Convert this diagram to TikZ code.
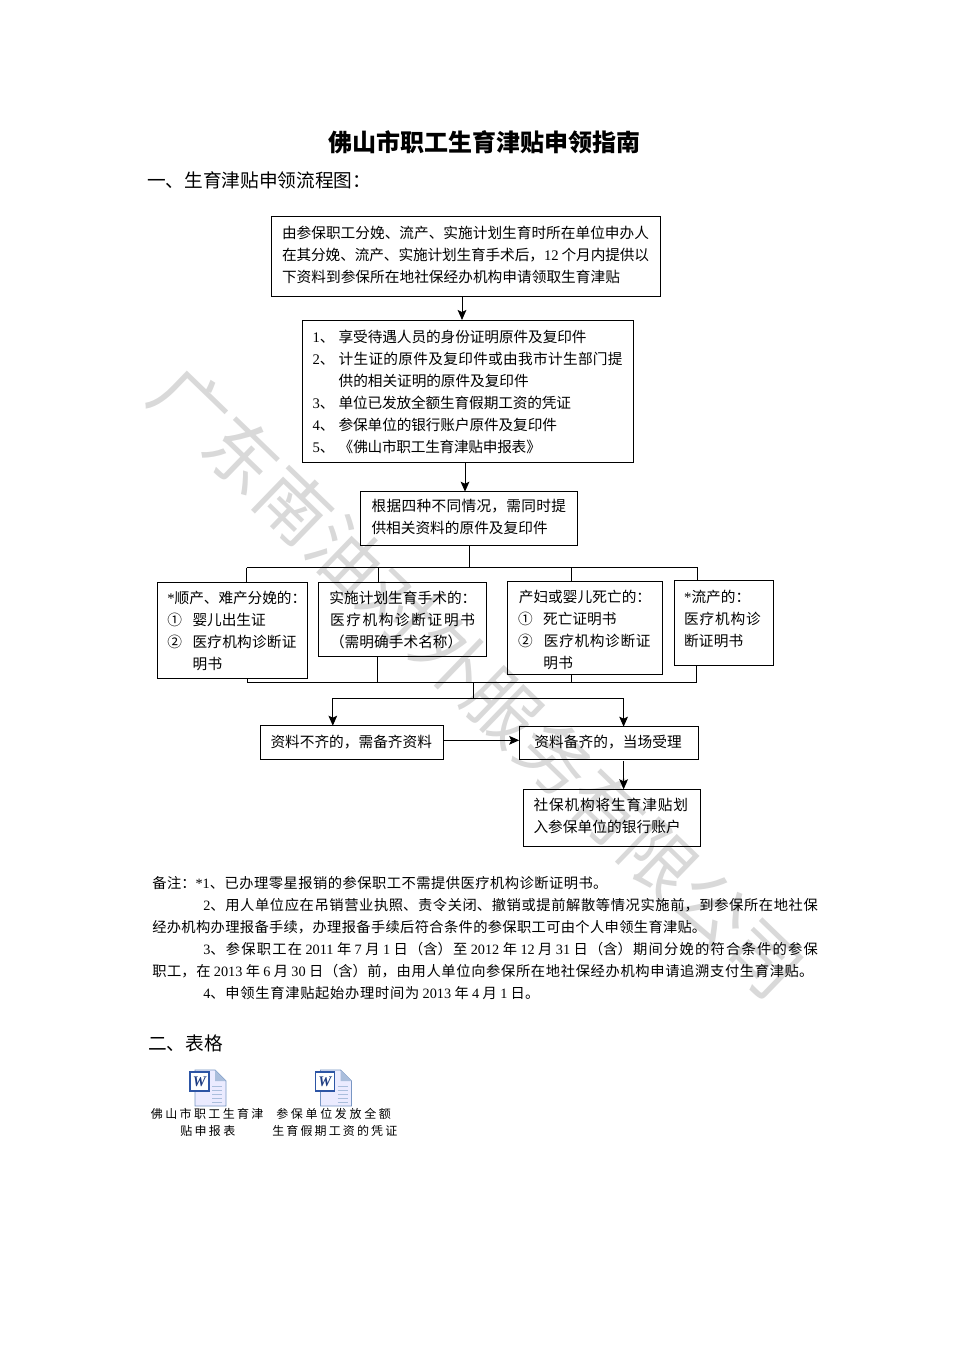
\documentclass[tikz,border=0pt]{standalone}
\usepackage{fontspec}
\usetikzlibrary{arrows.meta}
\setmainfont{Noto Sans CJK SC}
\newfontfamily\latfont{Liberation Serif}
\XeTeXlinebreaklocale "zh"
\XeTeXlinebreakskip=0pt plus 6pt minus .3pt
\pretolerance=10000 \tolerance=10000 \hbadness=10000 \hfuzz=5pt \vbadness=10000
\newlength\pxu \pxu=.75pt
\newlength\bw \newlength\bh
\newcommand\lat[1]{{\latfont #1}}
\newcommand\nm[2]{\makebox[#1\pxu][l]{#2}}
% one justified line: offset, width, text
\newcommand\jl[3]{{\hsize=\dimexpr #1\pxu+#2\pxu\relax \leftskip=#1\pxu \rightskip=0pt \parfillskip=0pt \parindent=0pt \noindent\strut #3\par}}
% box: name, x1, y1, x2, y2, top pad, lines
\newcommand\bx[7]{%
  \pgfmathsetlength\bw{(#4-#2)*.75}%
  \pgfmathsetlength\bh{(#5-#3)*.75}%
  \node[flowbox,anchor=north west] (#1) at (#2,#3) {\vbox to\bh{\hrule height0pt width\bw\kern#6\pxu #7\vss}};}
\tikzset{
  flowbox/.style={draw=black,line width=.75pt,inner sep=0pt,outer sep=0pt},
  conn/.style={draw=black,line width=.75pt},
  arr/.style={conn,-{Stealth[length=7.5pt,width=6.5pt,inset=1.5pt]}},
  body/.style={font=\fontsize{11}{16.5}\selectfont},
  watermark/.style={font=\fontsize{54}{60}\selectfont,text=black!15,rotate=-44,inner sep=0pt},
  note/.style={font=\fontsize{10.7}{16.5}\selectfont,inner sep=0pt,anchor=north west},
  captext/.style={font=\fontsize{9}{12.75}\selectfont,inner sep=0pt,anchor=north west},
  heading/.style={font=\fontsize{14}{18}\selectfont,inner sep=0pt,anchor=west},
  every node/.append style={body},
}
\newcommand\wordicon[2]{%
  \begin{scope}[shift={(#1,#2)}]
    \fill[blue!8!white] (5,0) -- (25,0) -- (36,11) -- (36,36) -- (5,36) -- cycle;
    \draw[color={rgb,255:red,120;green,150;blue,195},line width=.6pt] (5,0) -- (25,0) -- (36,11) -- (36,36) -- (5,36) -- cycle;
    \fill[color={rgb,255:red,170;green,190;blue,220}] (25,0) -- (36,11) -- (25,11) -- cycle;
    \foreach \yy in {16,20,24,28,32} \draw[color={rgb,255:red,170;green,190;blue,220},line width=.5pt] (22,\yy) -- (32,\yy);
    \fill[white] (0,2) rectangle (19,21);
    \draw[color={rgb,255:red,45;green,85;blue,165},line width=1pt] (0,2) rectangle (19,21);
    \node[inner sep=0pt,text={rgb,255:red,30;green,60;blue,130},font=\fontsize{11}{12}\bfseries\itshape\latfont] at (9.5,11.5) {W};
  \end{scope}}
\begin{document}
\begin{tikzpicture}[x=.75pt,y=-.75pt]
\useasboundingbox (0,0) rectangle (968,1369);
\node[watermark] (wm) at (477,682) {\pgfmathsetlength\bw{806*1.08*.75}\parbox{\bw}{\parfillskip=0pt\parindent=0pt\noindent 广东南油对外服务有限公司\par}};

\node[font=\fontsize{18}{22}\bfseries,inner sep=0pt] (title) at (484.5,142) {佛山市职工生育津贴申领指南};
\node[heading] (h1) at (147,180) {一、生育津贴申领流程图：};

\bx{b1}{271}{217}{660}{297}{5.9}{%
  \jl{11}{367}{由参保职工分娩、流产、实施计划生育时所在单位申办人}%
  \jl{11}{367}{在其分娩、流产、实施计划生育手术后，\lat{12} 个月内提供以}%
  \jl{11}{338}{下资料到参保所在地社保经办机构申请领取生育津贴}}
\bx{b2}{302}{320}{633}{462}{6.9}{%
  \jl{10.6}{274}{\nm{26}{\lat{1}、}享受待遇人员的身份证明原件及复印件}%
  \jl{10.6}{310}{\nm{26}{\lat{2}、}计生证的原件及复印件或由我市计生部门提}%
  \jl{36.7}{190}{供的相关证明的原件及复印件}%
  \jl{10.6}{258.4}{\nm{26}{\lat{3}、}单位已发放全额生育假期工资的凭证}%
  \jl{10.6}{244.4}{\nm{26}{\lat{4}、}参保单位的银行账户原件及复印件}%
  \jl{10.6}{228.4}{\nm{26}{\lat{5}、}《佛山市职工生育津贴申报表》}}
\bx{b3}{360.5}{491.7}{577.7}{545.3}{4.5}{%
  \jl{11}{194.5}{根据四种不同情况，需同时提}%
  \jl{11}{176.2}{供相关资料的原件及复印件}}
\bx{ca}{157.3}{582.3}{307.5}{678.3}{5.6}{%
  \jl{10}{139}{\lat{*}顺产、难产分娩的：}%
  \jl{10}{98.5}{\nm{25.2}{①}婴儿出生证}%
  \jl{10}{129.2}{\nm{25.2}{②}医疗机构诊断证}%
  \jl{35.3}{29.6}{明书}}
\bx{cb}{318.5}{582.3}{486.4}{656.3}{6.2}{%
  \jl{10.9}{147}{实施计划生育手术的：}%
  \jl{11.5}{145}{医疗机构诊断证明书}%
  \jl{11.5}{132.3}{（需明确手术名称）}}
\bx{cc}{507.4}{581.7}{662.7}{674.3}{5.8}{%
  \jl{11.4}{132.3}{产妇或婴儿死亡的：}%
  \jl{10.6}{98.5}{\nm{25.2}{①}死亡证明书}%
  \jl{10.6}{132.5}{\nm{26}{②}医疗机构诊断证}%
  \jl{36}{29.6}{明书}}
\bx{cd}{674.5}{580.3}{773.4}{665.3}{6.6}{%
  \jl{9.7}{66}{\lat{*}流产的：}%
  \jl{9.7}{76.6}{医疗机构诊}%
  \jl{9.7}{59}{断证明书}}
\bx{be}{260.4}{725.7}{443.5}{759.3}{6.2}{%
  \jl{10.1}{161.5}{资料不齐的，需备齐资料}}
\bx{bf}{519.2}{726.7}{698.5}{759.3}{5.8}{%
  \jl{15.2}{147.3}{资料备齐的，当场受理}}
\bx{bg}{523.4}{789.3}{700.6}{846.3}{5.9}{%
  \jl{10.1}{154.5}{社保机构将生育津贴划}%
  \jl{10.1}{147.3}{入参保单位的银行账户}}

% junction coordinates
\coordinate (a1) at (462,308);
\coordinate (a2) at (465,476);
\coordinate (up) at (469.5,567.7);
\coordinate (upl) at (246.5,567.7);
\coordinate (upb) at (378.2,567.7);
\coordinate (upc) at (571.4,567.7);
\coordinate (upr) at (697.7,567.7);
\coordinate (lol) at (247.3,682.3);
\coordinate (lob) at (377.4,682.3);
\coordinate (loc) at (571.4,682.3);
\coordinate (lor) at (696.4,682.3);
\coordinate (lom) at (473.3,682.3);
\coordinate (spm) at (473.3,698.3);
\coordinate (spl) at (332.8,698.3);
\coordinate (spr) at (623.6,698.3);

\draw[arr] (a1 |- b1.south) -- (a1 |- b2.north);
\draw[arr] (a2 |- b2.south) -- (a2 |- b3.north);
\draw[conn] (up |- b3.south) -- (up);
\draw[conn] (upl) -- (upr);
\draw[conn] (upl) -- (upl |- ca.north);
\draw[conn] (upb) -- (upb |- cb.north);
\draw[conn] (upc) -- (upc |- cc.north);
\draw[conn] (upr) -- (upr |- cd.north);
\draw[conn] (lol |- ca.south) -- (lol) -- (lor) -- (lor |- cd.south);
\draw[conn] (lob |- cb.south) -- (lob);
\draw[conn] (loc |- cc.south) -- (loc);
\draw[conn] (lom) -- (spm);
\draw[conn] (spl) -- (spr);
\draw[arr] (spl) -- (spl |- be.north);
\draw[arr] (spr) -- (spr |- bf.north);
\coordinate (ef) at (443.5,740.3);
\draw[arr] (ef) -- (ef -| bf.west);
\coordinate (fg) at (623.6,761);
\draw[arr] (fg) -- (fg |- bg.north);

\node[note] (notes) at (152,872.7) {\vbox{%
  \jl{0}{455}{备注：\lat{*1}、已办理零星报销的参保职工不需提供医疗机构诊断证明书。}%
  \jl{51}{614.6}{\lat{2}、用人单位应在吊销营业执照、责令关闭、撤销或提前解散等情况实施前，到参保所在地社保}%
  \jl{0}{554}{经办机构办理报备手续，办理报备手续后符合条件的参保职工可由个人申领生育津贴。}%
  \jl{51}{614.6}{\lat{3}、参保职工在 \lat{2011} 年 \lat{7} 月 \lat{1} 日（含）至 \lat{2012} 年 \lat{12} 月 \lat{31} 日（含）期间分娩的符合条件的参保}%
  \jl{0}{661}{职工，在 \lat{2013} 年 \lat{6} 月 \lat{30} 日（含）前，由用人单位向参保所在地社保经办机构申请追溯支付生育津贴。}%
  \jl{51}{336}{\lat{4}、申领生育津贴起始办理时间为 \lat{2013} 年 \lat{4} 月 \lat{1} 日。}}};

\node[heading] (h2) at (148,1043) {二、表格};

\wordicon{190}{1070}
\wordicon{315.5}{1070}
\node[captext] (cap1) at (150.7,1106.7) {\vbox{%
  \jl{0}{112.5}{佛山市职工生育津}%
  \jl{29.3}{55}{贴申报表}}};
\node[captext] (cap2) at (272,1106.7) {\vbox{%
  \jl{4}{114.7}{参保单位发放全额}%
  \jl{0}{125}{生育假期工资的凭证}}};
\end{tikzpicture}
\end{document}
